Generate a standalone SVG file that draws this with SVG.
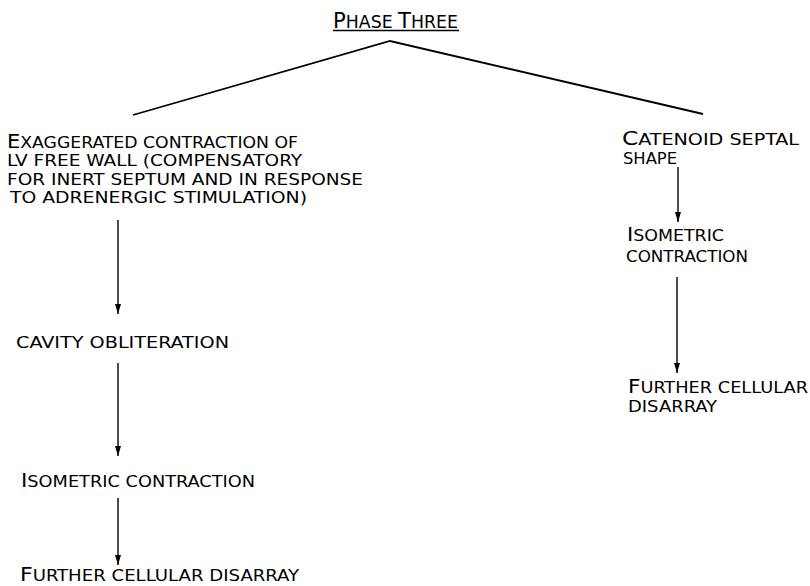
<svg xmlns="http://www.w3.org/2000/svg" width="810" height="586" viewBox="0 0 810 586">
<style>
text{font-family:"DejaVu Sans Condensed","Liberation Sans",sans-serif;font-size:16px;fill:#000;}
.big{font-size:19.5px;}
.title{font-size:18px;}
.tbig{font-size:22px;}
.edge{stroke:#000;stroke-width:1.8;fill:none;}
.arrow{stroke:#000;stroke-width:1.4;fill:none;marker-end:url(#ah);}
</style>
<defs>
<marker id="ah" markerUnits="userSpaceOnUse" markerWidth="6" markerHeight="10" refX="3" refY="10" orient="0" viewBox="0 0 6 10">
<path d="M0,0 L6,0 L3,10 Z" fill="#000"/>
</marker>
</defs>
<rect width="810" height="586" fill="#fff"/>
<g id="title">
<text class="title" x="333" y="28" textLength="125" lengthAdjust="spacingAndGlyphs"><tspan class="tbig">P</tspan>HASE <tspan class="tbig">T</tspan>HREE</text>
<line x1="333" y1="30.5" x2="459" y2="30.5" stroke="#000" stroke-width="1.5"/>
</g>
<g id="connectors">
<polyline class="edge" points="133,115 390,41 703,114"/>
<line class="arrow" x1="118" y1="220" x2="118" y2="314"/>
<line class="arrow" x1="118" y1="363" x2="118" y2="456"/>
<line class="arrow" x1="118" y1="498" x2="118" y2="565"/>
<line class="arrow" x1="678" y1="167" x2="678" y2="222"/>
<line class="arrow" x1="677" y1="277" x2="677" y2="373"/>
</g>
<g id="n-exaggerated">
<text x="7" y="148" textLength="291" lengthAdjust="spacingAndGlyphs"><tspan class="big">E</tspan>XAGGERATED CONTRACTION OF</text>
<text x="7" y="166" textLength="295" lengthAdjust="spacingAndGlyphs">LV FREE WALL (COMPENSATORY</text>
<text x="7" y="185" textLength="356" lengthAdjust="spacingAndGlyphs">FOR INERT SEPTUM AND IN RESPONSE</text>
<text x="10" y="203" textLength="297" lengthAdjust="spacingAndGlyphs">TO ADRENERGIC STIMULATION)</text>
</g>
<g id="n-cavity">
<text x="16" y="348" textLength="213" lengthAdjust="spacingAndGlyphs">CAVITY OBLITERATION</text>
</g>
<g id="n-isometric-left">
<text x="21" y="487" textLength="234" lengthAdjust="spacingAndGlyphs"><tspan class="big">I</tspan>SOMETRIC CONTRACTION</text>
</g>
<g id="n-further-left">
<text x="20" y="581" textLength="279" lengthAdjust="spacingAndGlyphs"><tspan class="big">F</tspan>URTHER CELLULAR DISARRAY</text>
</g>
<g id="n-catenoid">
<text x="622" y="145" textLength="177" lengthAdjust="spacingAndGlyphs"><tspan class="big">C</tspan>ATENOID SEPTAL</text>
<text x="623" y="164" textLength="54" lengthAdjust="spacingAndGlyphs">SHAPE</text>
</g>
<g id="n-isometric-right">
<text x="627" y="241" textLength="97" lengthAdjust="spacingAndGlyphs"><tspan class="big">I</tspan>SOMETRIC</text>
<text x="626" y="262" textLength="122" lengthAdjust="spacingAndGlyphs">CONTRACTION</text>
</g>
<g id="n-further-right">
<text x="628" y="393" textLength="180" lengthAdjust="spacingAndGlyphs"><tspan class="big">F</tspan>URTHER CELLULAR</text>
<text x="628" y="412" textLength="89" lengthAdjust="spacingAndGlyphs">DISARRAY</text>
</g>
</svg>
